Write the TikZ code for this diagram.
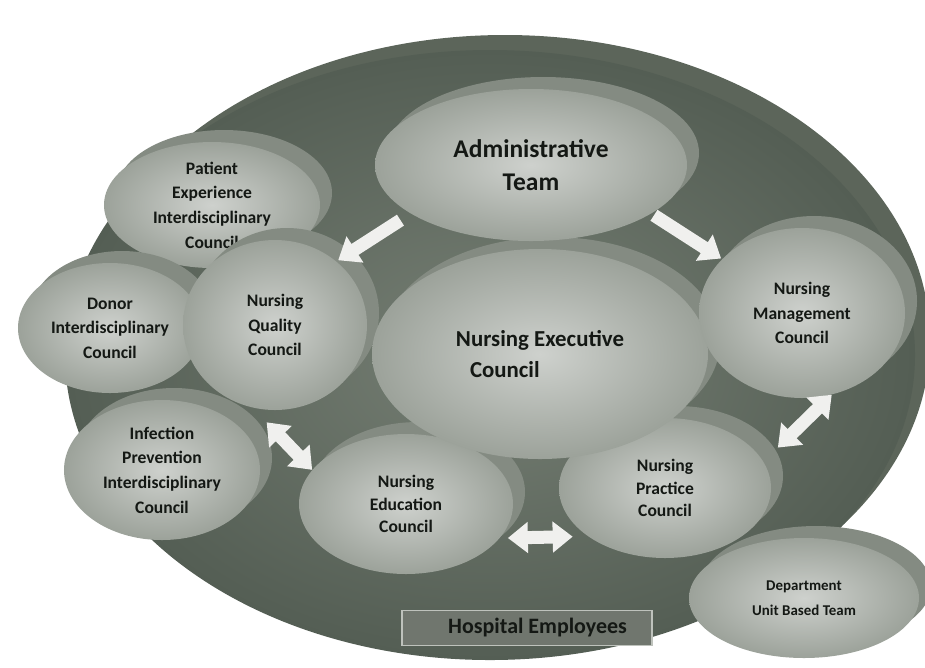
\documentclass[tikz,border=0pt]{standalone}
\usepackage{fontspec}
\setmainfont{Carlito}
\usetikzlibrary{arrows.meta,shapes.geometric,shadows}
\definecolor{fieldin}{RGB}{118,127,116}
\definecolor{fieldout}{RGB}{84,94,84}
\definecolor{fieldback}{RGB}{92,101,90}
\definecolor{bubblein}{RGB}{206,209,205}
\definecolor{bubbleout}{RGB}{156,162,154}
\definecolor{bubbleback}{RGB}{132,139,130}
\definecolor{arrowwhite}{RGB}{240,240,238}
\definecolor{tagfill}{RGB}{112,118,110}
\definecolor{tagedge}{RGB}{190,194,188}
\definecolor{ink}{RGB}{20,24,20}
\tikzset{>={Triangle[width=6mm,length=4mm]}}
\tikzstyle{field}=[
	ellipse, shade, inner color=fieldin, outer color=fieldout,
	general shadow={fill=fieldback, shadow xshift=3mm, shadow yshift=3mm},
	minimum width=170mm, minimum height=122mm
    ]
\tikzstyle{bubble}=[
	ellipse, inner sep=0pt, align=center,
	shade, inner color=bubblein, outer color=bubbleout,
	general shadow={fill=bubbleback, shadow xshift=2.4mm, shadow yshift=2.4mm},
	text=ink, font=\fontsize{10}{14}\selectfont\bfseries
    ]
\tikzstyle{tag}=[
	rectangle, draw=tagedge, line width=0.8pt, fill=tagfill,
	minimum width=50mm, minimum height=7mm,
	text=ink, font=\fontsize{12.5}{15}\selectfont\bfseries
    ]
\tikzstyle{flow}=[draw=arrowwhite, line width=2.6mm]
\newcommand{\pOne}[3][]{\draw[flow,->,#1] (#2) -- (#3)}
\newcommand{\pTwo}[3][]{\draw[flow,<->,#1] (#2) -- (#3)}

\begin{document}
\begin{tikzpicture}[x=0.2mm,y=-0.2mm]
\useasboundingbox (0,0) rectangle (925,667);

\node[field] (HS) at (490,355) {};

\node[bubble,minimum width=43.2mm,minimum height=25.2mm] (PEI) at (212,205) {Patient\\Experience\\Interdisciplinary\\Council};
\node[bubble,minimum width=36.8mm,minimum height=26mm] (DIC) at (110,328) {Donor\\Interdisciplinary\\Council};
\node[bubble,minimum width=36.8mm,minimum height=34mm] (NQC) at (275,325) {Nursing\\Quality\\Council};
\node[bubble,minimum width=39.2mm,minimum height=28mm] (IPI) at (162,470) {Infection\\Prevention\\Interdisciplinary\\Council};
\node[bubble,minimum width=42.8mm,minimum height=28mm,font=\fontsize{10}{13}\selectfont\bfseries] (NEdC) at (406,504) {Nursing\\Education\\Council};
\node[bubble,minimum width=42.4mm,minimum height=28mm,font=\fontsize{10}{13}\selectfont\bfseries] (NPC) at (665,488) {Nursing\\Practice\\Council};
\node[bubble,minimum width=67.2mm,minimum height=42mm,font=\fontsize{13}{18}\selectfont\bfseries] (NEC) at (540,354) {Nursing Executive\\Council\hspace*{40pt}};
\node[bubble,minimum width=41.2mm,minimum height=34mm] (NMC) at (802,313) {Nursing\\Management\\Council};
\node[bubble,minimum width=62.4mm,minimum height=30.4mm,font=\fontsize{14.5}{19}\selectfont\bfseries] (AT) at (531,165) {Administrative\\Team};
\node[bubble,minimum width=46mm,minimum height=24mm,font=\fontsize{8.5}{14}\selectfont\bfseries] (DUT) at (804,598) {Department\\Unit Based Team};

\node[tag] (HE) at (527,628) {\hspace*{12pt}Hospital Employees};

\pOne[shorten <=2.4mm,shorten >=0.4mm]{AT.202}{NQC.46};
\pOne[shorten <=0.6mm,shorten >=0.2mm]{AT.338}{NMC.146};
\pTwo[shorten <=4mm]{NQC.255}{NEdC.160};
\pTwo[shorten <=1.6mm,shorten >=3mm]{NEdC.340}{NPC.212};
\pTwo[shorten <=4mm]{NPC.15}{NMC.290};

\end{tikzpicture}
\end{document}
